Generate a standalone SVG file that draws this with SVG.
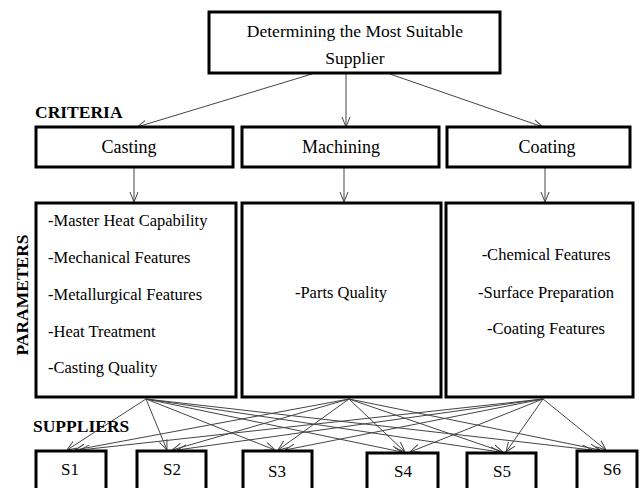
<svg xmlns="http://www.w3.org/2000/svg" width="640" height="488" viewBox="0 0 640 488">
<defs>
<style>
.box{fill:#fff;stroke:#000;stroke-width:3}
.t{font-family:"Liberation Serif","Times New Roman",serif;fill:#000}
.g{font-size:17.5px;text-anchor:middle}
.c{font-size:18px;text-anchor:middle}
.p{font-size:16.5px}
.pm{font-size:16.5px;text-anchor:middle}
.h{font-size:17.5px;font-weight:bold}
.s{font-size:17px;text-anchor:middle}
.ln{stroke:#444;stroke-width:1;fill:none;marker-end:url(#ah)}
</style>
<marker id="ah" viewBox="0 0 10 10" refX="10" refY="5" markerWidth="10" markerHeight="10" markerUnits="userSpaceOnUse" orient="auto">
<path d="M0,1 L10,5 L0,9" fill="none" stroke="#444" stroke-width="1"/>
</marker>
</defs>
<rect width="640" height="488" fill="#fff"/>

<g id="connectors">
<line class="ln" x1="312" y1="74" x2="137" y2="127"/>
<line class="ln" x1="346" y1="74" x2="346" y2="127"/>
<line class="ln" x1="390" y1="74" x2="543" y2="127"/>
<line class="ln" x1="134" y1="168" x2="134" y2="202"/>
<line class="ln" x1="344" y1="168" x2="344" y2="202"/>
<line class="ln" x1="545" y1="168" x2="545" y2="202"/>

<line class="ln" x1="146" y1="399" x2="67" y2="450"/>
<line class="ln" x1="146" y1="399" x2="167" y2="450"/>
<line class="ln" x1="146" y1="399" x2="275" y2="450"/>
<line class="ln" x1="146" y1="399" x2="402" y2="452"/>
<line class="ln" x1="146" y1="399" x2="500" y2="452"/>
<line class="ln" x1="146" y1="399" x2="592" y2="450"/>

<line class="ln" x1="349" y1="399" x2="75" y2="450"/>
<line class="ln" x1="349" y1="399" x2="172" y2="450"/>
<line class="ln" x1="349" y1="399" x2="278" y2="450"/>
<line class="ln" x1="349" y1="399" x2="405" y2="452"/>
<line class="ln" x1="349" y1="399" x2="503" y2="452"/>
<line class="ln" x1="349" y1="399" x2="600" y2="450"/>

<line class="ln" x1="543" y1="399" x2="80" y2="450"/>
<line class="ln" x1="543" y1="399" x2="177" y2="450"/>
<line class="ln" x1="543" y1="399" x2="285" y2="450"/>
<line class="ln" x1="543" y1="399" x2="410" y2="452"/>
<line class="ln" x1="543" y1="399" x2="506" y2="452"/>
<line class="ln" x1="543" y1="399" x2="606" y2="450"/>
</g>

<g id="goal">
<rect class="box" x="209" y="12" width="291" height="61"/>
<text class="t g" x="355" y="37">Determining the Most Suitable</text>
<text class="t g" x="355" y="64">Supplier</text>
</g>

<text class="t h" x="35" y="118">CRITERIA</text>
<text class="t h" x="33" y="432">SUPPLIERS</text>
<text class="t h" transform="translate(28,295) rotate(-90)" text-anchor="middle">PARAMETERS</text>

<g id="casting">
<rect class="box" x="36" y="127" width="197" height="40"/>
<text class="t c" x="129" y="153">Casting</text>
</g>
<g id="machining">
<rect class="box" x="242" y="127" width="197" height="40"/>
<text class="t c" x="341" y="153">Machining</text>
</g>
<g id="coating">
<rect class="box" x="447" y="127" width="183" height="40"/>
<text class="t c" x="547" y="153">Coating</text>
</g>

<g id="casting-params">
<rect class="box" x="36" y="203" width="200" height="194"/>
<text class="t p" x="48" y="226">-Master Heat Capability</text>
<text class="t p" x="48" y="263">-Mechanical Features</text>
<text class="t p" x="48" y="300">-Metallurgical Features</text>
<text class="t p" x="48" y="337">-Heat Treatment</text>
<text class="t p" x="48" y="373">-Casting Quality</text>
</g>
<g id="machining-params">
<rect class="box" x="242" y="203" width="199" height="194"/>
<text class="t pm" x="341" y="298">-Parts Quality</text>
</g>
<g id="coating-params">
<rect class="box" x="446" y="203" width="187" height="194"/>
<text class="t pm" x="546" y="260">-Chemical Features</text>
<text class="t pm" x="546" y="298">-Surface Preparation</text>
<text class="t pm" x="546" y="334">-Coating Features</text>
</g>

<g id="S1"><rect class="box" x="36" y="451" width="70" height="40"/><text class="t s" x="70" y="475">S1</text></g>
<g id="S2"><rect class="box" x="137" y="451" width="69" height="40"/><text class="t s" x="172" y="475">S2</text></g>
<g id="S3"><rect class="box" x="243" y="451" width="69" height="40"/><text class="t s" x="277" y="477">S3</text></g>
<g id="S4"><rect class="box" x="367" y="453" width="71" height="40"/><text class="t s" x="403" y="477">S4</text></g>
<g id="S5"><rect class="box" x="467" y="453" width="69" height="40"/><text class="t s" x="502" y="477">S5</text></g>
<g id="S6"><rect class="box" x="577" y="451" width="60" height="40"/><text class="t s" x="612" y="475">S6</text></g>
</svg>
